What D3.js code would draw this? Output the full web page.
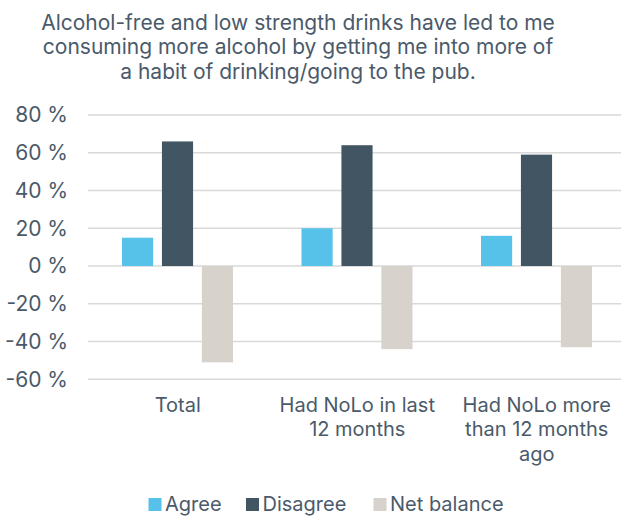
<!DOCTYPE html>
<html>
<head>
<meta charset="utf-8">
<script src="https://cdn.jsdelivr.net/npm/d3@7"></script>
<style>
  html, body { margin: 0; padding: 0; background: #fff; }
  svg { display: block; }
  text { font-family: Inter, "Noto Sans", sans-serif; fill: #4A5A6A; }
</style>
</head>
<body>
<svg id="chart" width="621" height="516"></svg>
<script>
// Survey groups and answer shares (percent)
const categories = ["Total", "Had NoLo in last 12 months", "Had NoLo more than 12 months ago"];
const seriesNames = ["Agree", "Disagree", "Net balance"];
const agree = [15, 20, 16];
const disagree = [66, 64, 59];
const netBalance = [-51, -44, -43];
const yTicks = [80, 60, 40, 20, 0, -20, -40, -60];
const titleLines = [
  "Alcohol-free and low strength drinks have led to me",
  "consuming more alcohol by getting me into more of",
  "a habit of drinking/going to the pub."
];
const colors = ["#56C2E9", "#425563", "#D7D2CB"];

const seriesValues = [agree, disagree, netBalance];
const rows = categories.map((c, i) => ({
  category: c,
  values: seriesNames.map((s, j) => ({ series: s, value: seriesValues[j][i] }))
}));

const svg = d3.select("#chart");

// Title
svg.append("g").selectAll("text")
  .data(titleLines)
  .join("text")
  .attr("x", 298)
  .attr("y", (d, i) => 29.5 + i * 24.5)
  .attr("text-anchor", "middle")
  .style("font-size", "21px")
  .text(d => d);

const plot = { left: 88, right: 626.5, top: 115, bottom: 379.3 };

const y = d3.scaleLinear().domain([-60, 80]).range([plot.bottom, plot.top]);
const x0 = d3.scaleBand().domain(categories).range([plot.left, plot.right]).paddingInner(0).paddingOuter(0);
const x1 = d3.scaleBand().domain(seriesNames).range([34, 145]).paddingInner(0.22);

// Gridlines
svg.append("g").selectAll("line")
  .data(yTicks)
  .join("line")
  .attr("x1", plot.left)
  .attr("x2", 621)
  .attr("y1", d => y(d))
  .attr("y2", d => y(d))
  .attr("stroke", "#D9D9D9")
  .attr("stroke-width", 1.5);

// Y axis labels
const yAxis = d3.axisLeft(y).tickValues(yTicks).tickSize(0).tickPadding(0)
  .tickFormat(d => d + " %");
const yg = svg.append("g").attr("transform", `translate(68,0)`).call(yAxis);
yg.select(".domain").remove();
yg.selectAll("text").style("font-size", "21px").attr("fill", "#4A5A6A").style("font-family", "Inter, sans-serif");

// Bars
svg.append("g").selectAll("g")
  .data(rows)
  .join("g")
  .attr("transform", d => `translate(${x0(d.category)},0)`)
  .selectAll("rect")
  .data(d => d.values)
  .join("rect")
  .attr("x", d => x1(d.series))
  .attr("width", x1.bandwidth())
  .attr("y", d => y(Math.max(0, d.value)))
  .attr("height", d => Math.abs(y(d.value) - y(0)))
  .attr("fill", (d, i) => colors[i]);

// Category labels, wrapped
function wrapWords(str, maxWidth, measure) {
  const words = str.split(" ");
  const lines = [];
  let line = "";
  words.forEach(w => {
    const t = line ? line + " " + w : w;
    if (measure(t) > maxWidth && line) { lines.push(line); line = w; }
    else line = t;
  });
  if (line) lines.push(line);
  return lines;
}
const catSize = "20px";
const probe = svg.append("text").style("font-size", catSize);
const measure = s => { probe.text(s); return probe.node().getComputedTextLength(); };

const catG = svg.append("g");
categories.forEach(c => {
  const lines = wrapWords(c, 162, measure);
  const cx = x0(c) + x0.bandwidth() / 2;
  catG.append("g").selectAll("text")
    .data(lines)
    .join("text")
    .attr("x", cx)
    .attr("y", (d, i) => 411.5 + i * 24.5)
    .attr("text-anchor", "middle")
    .style("font-size", catSize)
    .text(d => d);
});
probe.remove();

// Legend
const legendX = [148.5, 246, 373.5];
const lg = svg.append("g").selectAll("g")
  .data(seriesNames)
  .join("g")
  .attr("transform", (d, i) => `translate(${legendX[i]},498)`);
lg.append("rect").attr("width", 13).attr("height", 13).attr("fill", (d, i) => colors[i]);
lg.append("text").attr("x", 16.5).attr("y", 13).style("font-size", "20px").text(d => d);
</script>
</body>
</html>
